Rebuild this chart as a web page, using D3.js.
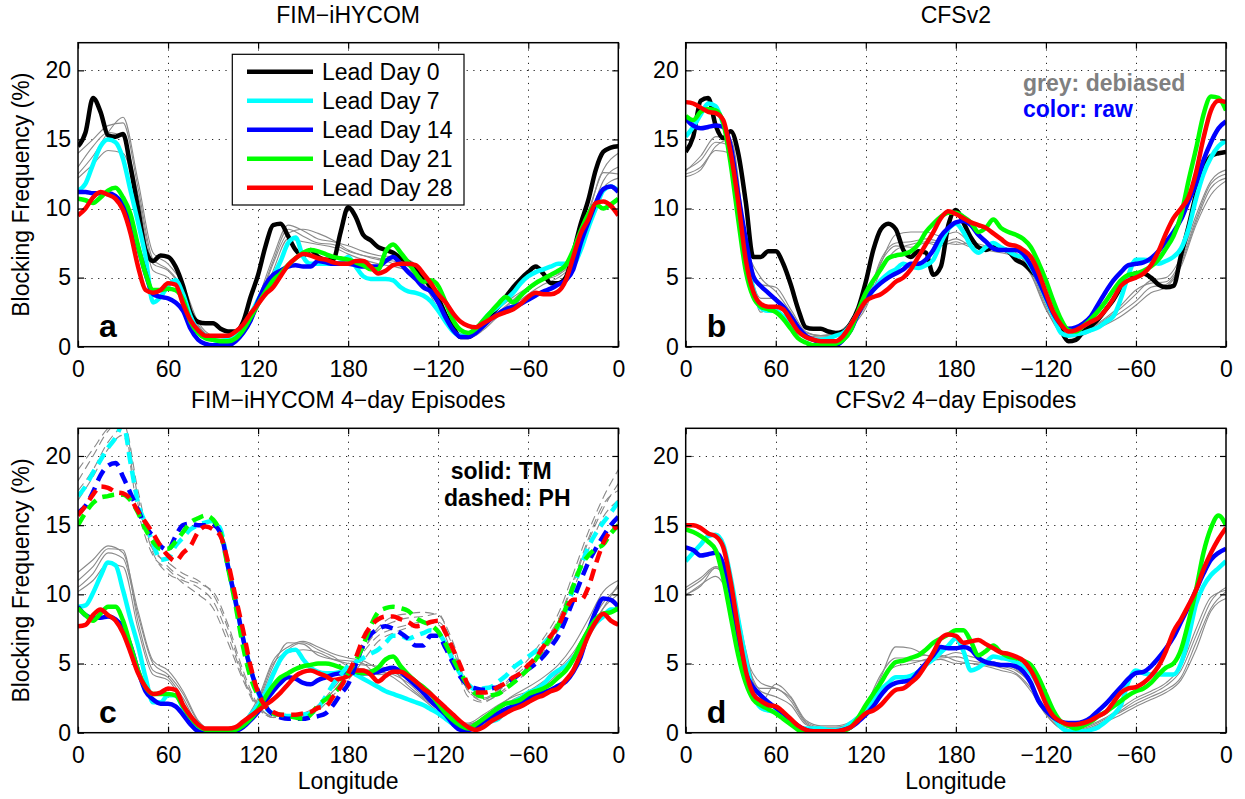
<!DOCTYPE html>
<html>
<head>
<meta charset="utf-8">
<script src="https://cdn.jsdelivr.net/npm/d3@7"></script>
<style>
  body { margin: 0; background: #fff; }
  svg { font-family: "Liberation Sans", Arial, Helvetica, sans-serif; }
</style>
</head>
<body>
<svg id="fig" width="1245" height="799"></svg>
<script>
// ---- longitude grids (deg east, 360 = 0) ----
const lonFine = [0,5,10,15,20,25,30,35,40,45,50,55,60,65,70,75,80,85,90,95,100,105,110,115,120,125,130,135,140,145,150,155,160,165,170,175,180,185,190,195,200,205,210,215,220,225,230,235,240,245,250,255,260,265,270,275,280,285,290,295,300,305,310,315,320,325,330,335,340,345,350,355,360];
const lonCoarse = [0,10,20,30,40,50,60,70,80,90,100,110,120,130,140,150,160,170,180,190,200,210,220,230,240,250,260,270,280,290,300,310,320,330,340,350,360];

const xTickVals = [0, 60, 120, 180, 240, 300, 360];
const xTickLabels = ["0", "60", "120", "180", "\u2212120", "\u221260", "0"];
const yTickVals = [0, 5, 10, 15, 20];

const leadNames = ["Lead Day 0", "Lead Day 7", "Lead Day 14", "Lead Day 21", "Lead Day 28"];
const leadColors = ["#000000", "#00ffff", "#0000ff", "#00ff00", "#ff0000"];

// ---- panel a: FIM-iHYCOM, raw (5 leads) ----
const aLead0 = [14.5,15.5,18.0,17.0,15.3,15.2,15.4,13.0,10.0,7.0, 6.2,6.6,6.5,5.8,4.4,2.5,1.8,1.7,1.7,1.3, 1.1,1.1,1.8,3.6,5.2,7.3,8.8,8.9,8.0,7.0, 6.6,7.0,6.5,6.3,6.3,8.3,10.1,9.4,8.1,7.7, 7.2,7.0,6.8,6.4,6.1,5.6,5.1,4.3,3.5,2.3, 1.4,0.7,0.7,1.1,1.7,2.3,2.9,3.6,4.3,4.9, 5.4,5.8,5.3,4.6,4.6,5.0,6.8,8.9,10.6,12.8, 14.1,14.4,14.5];
const aLead7 = [11.3,11.8,13.2,14.5,15.0,14.8,13.6,11.3,9.0,6.5, 3.2,3.6,4.4,4.8,3.8,2.2,1.2,0.8,0.5,0.4, 0.5,0.7,1.3,2.3,3.4,4.4,5.1,6.2,7.5,7.9, 6.5,6.0,6.0,6.0,6.0,6.1,6.5,5.8,5.1,4.9, 4.9,4.9,4.8,4.3,4.0,3.9,3.7,3.3,2.6,1.8, 1.1,0.8,0.9,1.2,1.9,2.5,2.9,3.4,3.9,4.6, 5.1,5.4,5.6,5.8,6.0,6.0,6.0,7.0,8.6,10.0, 11.3,11.6,11.3];
const aLead14 = [11.2,11.2,11.1,11.1,11.1,10.9,10.3,9.0,7.2,5.3, 3.8,3.6,3.5,3.2,2.6,1.3,0.5,0.2,0.1,0.1, 0.1,0.4,1.0,1.9,3.3,4.5,5.2,5.5,5.8,5.9, 5.8,5.8,6.2,6.1,6.0,6.0,6.0,5.9,5.8,5.8, 5.8,6.2,6.5,6.0,5.4,4.9,4.3,4.0,3.2,2.1, 1.2,0.7,0.7,1.0,1.5,2.0,2.4,2.7,2.9,3.1, 3.4,3.7,4.0,4.2,4.5,4.8,5.6,7.5,9.0,10.4, 11.4,11.6,11.2];
const aLead21 = [10.7,10.6,10.4,10.8,11.3,11.5,10.8,9.6,7.3,5.3, 4.1,4.1,4.2,4.1,3.4,1.8,1.0,0.6,0.5,0.4, 0.4,0.6,1.2,2.1,3.1,4.0,4.8,5.3,5.9,6.4, 6.8,7.0,6.9,6.7,6.5,6.4,6.3,6.1,5.9,5.6, 5.6,6.9,7.4,6.8,6.1,5.3,4.7,4.8,4.4,3.2, 1.9,1.2,1.0,1.3,1.9,2.5,3.1,3.6,3.2,3.7, 4.2,4.6,4.9,5.2,5.5,5.9,7.0,8.4,9.6,10.3, 10.0,10.3,10.7];
const aLead28 = [9.5,10.0,10.8,11.2,11.0,10.7,9.9,8.2,5.8,4.1, 3.9,4.1,4.6,4.5,3.1,1.9,1.2,0.8,0.8,0.8, 0.8,1.1,1.6,2.4,3.1,3.8,4.3,5.1,5.9,6.4, 6.7,6.6,6.4,6.3,6.1,6.0,6.0,6.2,6.2,5.8, 5.3,5.5,5.9,6.0,6.0,5.9,5.3,4.6,3.8,3.2, 2.4,1.8,1.5,1.4,1.7,2.0,2.3,2.5,2.7,3.1, 3.6,3.9,3.8,3.8,4.0,4.8,6.5,8.2,9.2,10.4, 10.5,10.2,9.5];
// debiased (grey)
const aGrey1 = [12.5,13.8,15.5,16.6,12.0,6.8,6.0,4.5,1.8,0.8, 0.7,1.3,3.5,6.5,8.8,8.4,7.8,7.6,7.3,6.9, 6.6,6.5,6.3,5.3,3.3,1.3,0.8,1.6,2.7,3.6, 4.3,5.0,5.3,6.5,9.5,12.6,12.5];
const aGrey2 = [13.0,14.5,15.5,15.2,11.0,6.0,5.5,4.0,1.5,0.6, 0.5,1.0,3.0,6.0,8.2,8.5,8.2,7.7,7.0,6.6, 6.3,6.2,5.8,5.0,3.0,1.2,0.7,1.3,2.4,3.3, 4.1,4.8,5.2,6.2,9.0,12.0,13.0];
const aGrey3 = [12.2,13.2,14.2,14.0,10.5,5.5,5.0,3.6,1.2,0.4, 0.3,0.9,2.8,5.5,7.8,7.6,7.4,7.2,6.7,6.3, 6.0,5.8,5.5,4.6,2.7,1.0,0.6,1.2,2.2,3.0, 3.8,4.5,5.0,6.0,8.5,11.5,12.2];
const aGrey4 = [14.0,15.0,16.0,16.2,11.5,6.3,5.6,4.2,1.6,0.7, 0.6,1.1,3.2,6.2,8.5,8.0,7.5,7.4,6.9,6.6, 6.4,6.0,5.6,4.8,3.1,1.1,0.8,1.5,2.5,3.4, 4.3,5.0,5.5,6.8,9.8,12.8,14.0];

// ---- panel b: CFSv2 ----
const bLead0 = [14.1,15.2,17.8,18.0,16.0,15.1,15.6,14.0,10.5,6.5, 6.5,6.9,6.9,6.0,4.5,2.7,1.4,1.3,1.3,1.1, 1.0,1.1,1.7,2.8,4.7,7.0,8.5,8.9,8.5,7.0, 6.5,6.9,6.8,5.2,5.8,8.8,9.9,9.0,7.9,7.2, 7.0,7.2,7.1,6.9,6.3,6.0,5.5,4.9,3.7,2.4, 1.2,0.4,0.5,1.1,1.5,2.0,2.7,3.4,4.3,5.0, 5.3,5.3,5.0,4.5,4.3,4.4,6.6,8.7,11.0,12.8, 13.8,14.0,14.1];
const bLead7 = [15.2,15.9,16.8,17.6,17.4,16.1,14.2,10.6,7.0,4.2, 2.8,2.6,2.6,2.2,1.7,1.1,0.7,0.5,0.5,0.6, 0.8,1.0,1.6,2.5,3.4,4.1,4.8,5.3,5.6,6.0, 5.8,5.7,5.9,6.3,7.5,8.5,8.9,8.3,7.3,6.8, 7.2,7.5,7.2,6.9,6.6,6.5,5.8,4.8,3.5,2.2, 1.0,0.8,0.9,1.0,1.2,1.4,1.8,2.2,3.5,5.2, 6.3,6.3,6.2,6.0,6.2,6.5,7.1,8.5,10.7,12.5, 13.7,14.5,14.9];
const bLead14 = [16.5,16.0,15.8,15.9,16.0,15.9,14.5,11.0,7.8,5.1, 4.4,3.9,3.4,2.9,2.2,1.4,0.8,0.5,0.3,0.1, 0.1,0.5,1.2,2.4,3.4,4.1,4.6,5.0,5.3,5.6, 6.0,6.0,6.3,7.0,8.0,8.6,9.0,9.1,8.8,8.1, 7.6,7.1,7.0,7.0,7.0,6.7,5.9,4.8,3.6,2.4, 1.6,1.3,1.4,1.7,2.2,3.1,4.0,4.8,5.4,5.9, 6.0,6.1,6.4,6.9,7.6,8.3,9.2,10.5,11.8,13.5, 14.8,15.8,16.3];
const bLead21 = [16.7,16.4,17.0,17.2,17.1,16.2,13.2,9.2,5.5,3.6, 2.9,2.7,2.5,2.0,1.3,0.6,0.3,0.1,0.1,0.1, 0.2,0.5,1.2,2.6,3.9,4.8,5.6,6.4,6.6,6.7, 6.9,7.4,8.3,8.9,9.4,9.7,9.7,9.4,9.0,8.3, 8.6,9.2,8.6,8.3,8.1,7.8,7.2,6.1,4.8,3.3, 2.0,1.2,1.1,1.5,2.0,2.6,3.3,4.1,4.8,5.2, 5.3,5.5,5.8,6.3,7.1,8.0,9.5,12.0,14.3,16.8, 18.1,18.0,17.1];
const bLead28 = [17.7,17.6,17.3,17.0,16.9,16.4,14.0,10.5,6.3,4.0, 3.1,2.9,2.9,2.7,1.9,1.1,0.7,0.5,0.4,0.4, 0.4,0.8,1.6,2.5,3.3,3.6,3.8,4.2,4.7,5.0, 5.6,6.5,7.4,8.3,9.3,9.8,9.6,9.3,9.0,8.8, 8.6,8.2,7.8,7.4,7.3,7.0,6.5,5.4,3.9,2.5, 1.6,1.1,1.2,1.5,1.8,2.1,2.7,3.5,4.4,4.8, 5.0,5.3,5.9,6.9,8.2,9.3,10.0,10.8,12.6,15.1, 17.1,17.8,17.7];
const bGrey1 = [12.8,13.5,14.8,14.5,7.5,5.0,4.0,2.5,1.0,0.8, 0.9,1.6,3.0,6.0,8.1,8.3,8.3,8.0,8.3,7.5, 7.2,7.2,6.8,5.5,3.0,1.3,0.9,1.3,2.0,2.8, 3.8,4.8,5.0,6.5,9.5,12.0,12.8];
const bGrey2 = [12.5,13.0,14.2,14.0,7.0,3.5,3.5,2.2,0.8,0.7, 0.8,1.4,2.8,5.5,7.0,7.4,7.6,7.5,7.8,7.3, 7.0,6.8,6.5,5.2,2.7,1.2,0.8,1.2,1.8,2.5, 3.3,4.3,4.5,6.0,9.0,11.5,12.2];
const bGrey3 = [12.3,12.8,14.5,15.0,7.8,2.5,3.0,2.0,0.7,0.6, 0.7,1.5,3.2,6.3,7.5,7.6,7.8,7.6,7.4,7.5, 7.3,7.0,6.6,5.3,2.8,1.0,0.7,1.1,1.6,2.2, 3.0,3.9,4.3,5.8,8.8,11.0,12.0];
const bGrey4 = [12.7,13.8,15.2,14.8,7.6,4.5,4.3,2.7,1.1,0.8, 1.0,1.8,3.4,6.1,7.3,7.2,7.5,7.3,7.6,7.2, 7.1,7.0,6.7,5.6,3.2,1.4,1.0,1.4,2.1,3.0, 4.1,4.6,4.7,6.2,9.2,11.8,12.5];

// ---- panel c: FIM-iHYCOM 4-day episodes, TM (solid) and PH (dashed) ----
const cTM7 = [9.1,9.2,10.1,11.3,12.3,12.1,10.3,8.2,6.3,4.0, 2.2,2.2,2.7,2.7,1.8,1.0,0.4,0.2,0.1,0.1, 0.1,0.2,0.6,1.3,2.0,2.9,4.2,5.3,5.9,6.0, 5.3,4.7,4.4,4.3,4.3,4.4,4.5,4.2,3.9,3.6, 3.3,3.0,2.8,2.6,2.4,2.2,2.0,1.7,1.4,1.0, 0.6,0.3,0.3,0.4,0.6,0.8,1.0,1.6,2.2,2.5, 2.9,3.1,3.5,4.1,4.5,4.8,5.4,6.2,7.1,7.9, 8.4,8.9,8.9];
const cTM14 = [9.1,8.5,8.3,8.3,8.4,8.2,7.6,6.3,4.5,3.0, 2.4,2.1,2.1,1.9,1.3,0.6,0.1,0.0,0.0,0.0, 0.0,0.1,0.4,0.9,1.5,2.3,3.0,3.6,4.0,3.9, 3.6,3.5,3.8,4.0,4.2,4.3,4.4,4.4,4.3,4.3, 4.4,4.6,4.7,4.4,3.9,3.4,2.9,2.3,1.8,1.3, 0.6,0.2,0.2,0.4,0.8,1.1,1.4,1.7,1.9,2.2, 2.5,2.7,2.9,3.1,3.4,3.7,4.4,5.5,7.3,8.8, 9.7,9.6,9.1];
const cTM21 = [9.0,8.5,8.1,8.6,9.1,9.1,8.1,6.3,4.5,3.3, 2.8,2.8,2.8,2.7,1.9,1.1,0.5,0.2,0.1,0.1, 0.1,0.2,0.5,1.0,1.7,2.6,3.4,4.0,4.3,4.6, 4.8,4.9,5.0,5.0,4.9,4.7,4.5,4.4,4.3,4.4, 4.7,5.3,5.5,4.8,4.2,3.7,3.3,2.8,2.1,1.4, 0.9,0.5,0.3,0.6,1.0,1.4,1.8,2.1,2.2,2.4, 2.8,3.0,3.2,3.5,4.0,4.5,5.3,6.4,7.4,8.2, 8.6,8.7,9.0];
const cTM28 = [7.7,7.8,8.5,8.9,8.5,8.1,7.2,5.8,4.3,3.3, 2.8,2.9,3.2,3.1,2.0,1.2,0.6,0.3,0.3,0.3, 0.3,0.4,0.8,1.2,1.6,2.0,2.4,2.9,3.5,4.1, 4.4,4.5,4.3,4.1,3.8,3.9,4.1,4.5,4.5,4.2, 3.7,4.1,4.4,4.4,4.1,3.7,3.2,2.8,2.3,1.8, 1.3,0.8,0.4,0.2,0.4,0.8,1.1,1.4,1.7,1.9, 2.2,2.5,2.7,3.0,3.2,3.8,4.5,5.7,7.0,8.0, 8.6,8.1,7.8];
const cPH7 = [17.1,17.8,18.8,19.7,20.6,21.3,22.3,19.5,16.6,15.1, 13.7,12.5,12.6,13.5,14.1,14.7,15.0,15.2,15.3,14.7, 12.0,9.4,6.8,4.6,2.9,1.8,1.4,1.3,1.2,1.2, 1.3,1.4,1.8,2.6,3.5,4.2,4.8,5.1,5.4,5.7, 6.0,6.5,7.0,7.0,6.8,7.0,7.2,7.4,7.2,6.4, 5.2,4.2,3.5,3.1,3.2,3.3,3.7,4.1,4.7,5.1, 5.5,5.9,6.4,7.0,7.6,8.8,10.4,12.0,13.4,14.4, 15.2,15.9,16.7];
const cPH14 = [15.9,16.4,17.4,18.6,19.3,19.5,18.5,17.3,16.1,14.9, 14.2,13.5,13.2,14.2,15.0,15.1,15.0,15.0,15.0,14.4, 12.0,9.5,6.8,4.6,3.0,1.9,1.3,1.1,1.0,1.0, 1.0,1.1,1.2,1.4,2.0,2.8,3.5,4.9,6.3,7.1, 7.5,7.7,7.5,7.2,6.8,6.3,6.3,7.0,7.0,6.1, 5.0,4.0,3.4,3.2,3.1,3.2,3.3,3.6,3.9,4.3, 4.6,5.0,5.5,6.2,7.0,8.2,9.6,11.0,12.3,13.3, 14.2,15.0,15.6];
const cPH21 = [15.0,15.9,16.6,17.0,17.1,17.2,17.2,16.8,15.9,14.7, 13.8,13.3,13.3,13.8,14.5,15.2,15.5,15.7,15.4,14.4, 11.9,9.2,6.2,4.0,2.7,1.9,1.4,1.3,1.2,1.1, 1.0,1.3,2.0,2.4,2.8,3.4,4.3,5.2,6.3,7.7, 8.7,9.0,9.1,9.0,8.8,8.3,8.0,7.8,7.3,6.4, 5.3,4.3,3.4,2.8,2.6,2.7,2.8,3.2,3.6,4.1, 4.6,5.3,6.1,6.9,7.8,9.0,10.6,12.0,12.8,13.3, 13.6,14.4,15.0];
const cPH28 = [15.7,16.4,17.2,17.8,17.7,17.4,17.3,16.9,16.0,15.2, 14.4,13.5,12.8,12.4,13.0,13.5,14.5,14.9,14.7,14.2, 12.3,9.8,7.4,4.8,2.9,1.9,1.5,1.3,1.3,1.3, 1.4,1.5,1.8,1.9,2.6,3.3,4.3,5.4,6.8,7.7, 8.2,8.4,8.4,8.2,8.0,7.7,7.8,8.0,8.1,7.2, 6.0,4.8,3.4,2.9,2.9,3.0,3.3,3.6,4.0,4.3, 4.9,5.4,6.2,7.0,7.7,8.9,9.6,9.6,10.5,12.2, 13.7,14.6,14.9];
const cGreyTM1 = [10.5,11.5,13.0,12.6,8.5,5.0,4.2,2.8,0.8,0.1, 0.1,0.7,2.2,4.8,6.5,6.4,5.6,5.3,5.2,5.0, 4.2,4.3,3.8,2.8,2.0,1.0,0.6,1.0,1.6,2.4, 2.9,3.6,4.6,5.8,7.6,9.4,10.5];
const cGreyTM2 = [11.0,12.0,13.3,13.2,8.0,4.5,4.0,2.5,0.6,0.1, 0.1,0.5,2.0,4.5,6.0,6.5,6.0,5.5,4.8,4.6, 4.4,4.2,3.6,2.6,1.8,0.8,0.5,0.8,1.4,2.2, 2.7,3.3,4.3,5.5,7.2,9.0,10.0];
const cGreyTM3 = [10.2,11.0,12.2,12.0,7.5,4.2,3.8,2.2,0.5,0.0, 0.0,0.6,2.3,5.0,5.8,6.0,5.8,5.3,5.0,4.9, 4.8,4.5,3.4,2.5,1.7,0.9,0.6,1.1,1.9,2.7, 3.3,4.0,4.9,6.3,8.2,10.2,11.0];
const cGreyTM4 = [11.6,12.5,13.5,13.0,8.8,5.2,4.5,3.0,0.9,0.2, 0.2,0.8,2.5,5.2,6.2,6.6,6.2,5.7,5.4,5.2, 4.6,4.0,3.2,2.4,1.5,0.7,0.7,1.3,2.0,2.6, 3.0,3.7,4.4,5.6,7.0,9.0,10.7];
const cGreyPH1 = [17.5,19.0,21.0,22.0,16.5,13.5,12.0,11.2,10.8,10.2, 7.8,4.5,2.0,1.2,1.2,1.4,2.0,3.2,4.5,6.0, 7.4,8.0,8.3,8.4,8.6,6.0,3.0,2.4,3.0,4.0, 5.0,6.5,8.2,11.0,14.0,16.5,17.5];
const cGreyPH2 = [18.2,20.0,21.8,22.5,17.0,13.0,11.5,11.0,10.5,9.5, 7.0,4.0,1.8,1.1,1.1,1.3,1.8,3.0,4.2,5.8, 7.0,7.5,7.8,8.0,7.8,5.5,2.6,2.2,2.8,3.7, 4.8,6.2,8.0,10.8,13.8,16.2,18.0];
const cGreyPH3 = [16.8,18.5,20.5,21.5,16.0,12.8,11.8,10.8,10.0,9.0, 6.5,3.8,1.7,1.1,1.0,1.2,1.6,2.7,3.8,5.2, 6.6,7.2,7.6,7.8,8.0,6.2,3.0,2.3,2.7,3.5, 4.5,5.8,7.5,10.3,13.2,15.6,16.8];
const cGreyPH4 = [19.0,20.5,22.0,22.6,17.5,13.2,12.3,11.5,11.0,10.0, 7.5,4.2,1.9,1.2,1.2,1.3,1.9,3.0,4.3,6.0, 7.6,8.4,8.6,8.7,8.5,6.5,3.2,2.5,3.1,4.2, 5.3,6.8,8.6,11.5,14.5,17.0,19.0];

// ---- panel d: CFSv2 4-day episodes ----
const dLead7 = [12.4,13.0,13.6,14.2,14.3,13.6,11.2,8.2,5.3,2.8, 1.8,1.6,1.5,1.2,0.8,0.4,0.3,0.3,0.3,0.2, 0.2,0.3,0.7,1.1,1.7,2.4,3.1,3.6,4.0,4.0, 4.1,4.4,4.9,5.3,5.8,6.3,6.8,5.9,4.5,4.7, 5.1,5.5,5.4,5.3,5.1,4.8,4.3,3.4,2.3,1.2, 0.4,0.1,0.1,0.1,0.2,0.4,0.8,1.3,2.0,3.7, 4.5,4.3,4.2,4.2,4.2,4.2,5.0,6.9,9.3,10.6, 11.4,11.9,12.4];
const dLead14 = [13.4,13.2,12.8,12.9,13.0,12.2,10.0,6.6,4.3,3.3, 2.7,2.2,1.8,1.4,0.9,0.5,0.2,0.1,0.1,0.1, 0.1,0.2,0.4,0.8,1.3,1.9,2.7,3.3,3.6,3.7, 3.8,4.4,5.0,5.6,6.2,6.1,6.1,6.2,6.0,5.4, 5.1,5.0,4.9,4.9,4.8,4.4,3.6,2.3,1.6,1.1, 0.8,0.7,0.7,0.8,1.1,1.6,2.1,2.7,3.3,3.9, 4.3,4.4,4.8,5.4,6.1,6.9,8.0,9.1,10.3,11.5, 12.5,13.0,13.3];
const dLead21 = [14.7,14.5,14.2,13.8,13.2,11.2,8.4,5.6,3.6,2.4, 2.0,1.7,1.4,1.0,0.6,0.2,0.0,0.0,0.0,0.0, 0.0,0.1,0.4,1.1,2.0,2.8,3.6,4.5,5.1,5.2, 5.4,5.6,6.0,6.5,6.8,7.1,7.4,7.4,6.6,5.6, 5.9,6.3,5.8,5.5,5.4,5.2,4.9,4.0,2.8,1.6, 0.8,0.5,0.3,0.5,0.8,1.2,1.5,1.9,2.3,2.7, 3.0,3.2,3.6,4.2,4.7,5.0,6.0,8.0,10.3,13.0, 14.8,15.7,15.0];
const dLead28 = [15.0,15.0,14.8,14.4,14.2,13.4,10.9,7.5,4.5,2.8, 2.3,2.0,1.9,1.5,1.0,0.5,0.2,0.1,0.1,0.1, 0.1,0.2,0.4,0.9,1.4,1.6,2.0,2.6,3.1,3.2, 3.6,4.1,4.9,5.8,6.8,7.1,7.0,6.5,6.6,6.7, 6.4,6.1,5.8,5.7,5.5,5.2,4.5,3.4,2.1,1.2, 0.8,0.6,0.6,0.7,0.9,1.2,1.5,2.2,2.9,3.2, 3.3,3.6,4.1,4.8,5.9,7.3,8.2,9.2,10.3,11.8, 13.0,14.0,14.8];
const dGrey1 = [10.0,10.6,11.9,10.0,5.5,3.6,3.2,2.5,0.8,0.4, 0.4,0.7,1.8,4.0,6.2,6.1,5.6,5.4,5.5,5.2, 5.0,4.8,4.5,3.5,1.6,0.4,0.2,0.5,1.0,1.5, 2.1,2.6,3.1,4.0,6.5,9.0,10.2];
const dGrey2 = [10.3,11.0,11.9,10.5,5.0,3.2,3.2,2.3,0.7,0.3, 0.3,0.6,1.6,3.6,5.0,5.2,5.2,5.3,5.0,5.0, 4.9,4.7,4.3,3.2,1.4,0.3,0.1,0.4,0.9,1.6, 2.3,2.8,3.4,4.5,7.0,9.5,10.5];
const dGrey3 = [9.9,10.7,11.3,9.5,5.3,3.0,2.6,2.0,0.6,0.3, 0.3,0.6,1.7,3.8,4.8,5.0,5.3,5.6,5.2,5.0, 4.8,4.5,4.2,3.0,1.3,0.3,0.1,0.3,0.8,1.3, 1.9,2.4,2.9,3.8,6.0,8.8,9.7];
const dGrey4 = [10.5,11.2,12.0,10.8,6.0,2.2,3.5,2.6,0.9,0.5, 0.5,0.8,2.0,4.2,5.4,5.4,5.6,5.5,5.8,5.5, 5.2,5.0,4.6,3.6,1.7,0.5,0.3,0.6,1.1,1.8, 2.5,3.0,3.6,4.8,7.5,9.8,10.3];

// ---- figure ----
const svg = d3.select("#fig");
const FONT = "'Liberation Sans', Arial, Helvetica, sans-serif";
const FS = 23;

const panels = [
  { key: "a", title: "FIM\u2212iHYCOM", left: 78, right: 618.3, top: 42.7, bottom: 346.7, ylabel: true, xlabel: false,
    grey: [aGrey1, aGrey2, aGrey3, aGrey4].map(v => ({ values: v })),
    colored: [aLead0, aLead7, aLead14, aLead21, aLead28].map((v, i) => ({ values: v, color: leadColors[i] })) },
  { key: "b", title: "CFSv2", left: 685.7, right: 1226, top: 42.7, bottom: 346.7, ylabel: false, xlabel: false,
    grey: [bGrey1, bGrey2, bGrey3, bGrey4].map(v => ({ values: v })),
    colored: [bLead0, bLead7, bLead14, bLead21, bLead28].map((v, i) => ({ values: v, color: leadColors[i] })) },
  { key: "c", title: "FIM\u2212iHYCOM 4\u2212day Episodes", left: 78, right: 618.3, top: 428.3, bottom: 732.7, ylabel: true, xlabel: true,
    grey: [cGreyTM1, cGreyTM2, cGreyTM3, cGreyTM4].map(v => ({ values: v }))
      .concat([cGreyPH1, cGreyPH2, cGreyPH3, cGreyPH4].map(v => ({ values: v, dashed: true }))),
    colored: [cTM7, cTM14, cTM21, cTM28].map((v, i) => ({ values: v, color: leadColors[i + 1] }))
      .concat([cPH7, cPH14, cPH21, cPH28].map((v, i) => ({ values: v, color: leadColors[i + 1], dashed: true }))) },
  { key: "d", title: "CFSv2 4\u2212day Episodes", left: 685.7, right: 1226, top: 428.3, bottom: 732.7, ylabel: false, xlabel: true,
    grey: [dGrey1, dGrey2, dGrey3, dGrey4].map(v => ({ values: v })),
    colored: [dLead7, dLead14, dLead21, dLead28].map((v, i) => ({ values: v, color: leadColors[i + 1] })) }
];

function styleAxis(ax) {
  ax.select(".domain").remove();
  ax.attr("font-size", FS).attr("font-family", FONT);
  ax.selectAll("line").attr("stroke", "#000").attr("stroke-width", 1.2);
  ax.selectAll("text").attr("fill", "#000");
}

panels.forEach(p => {
  const x = d3.scaleLinear().domain([0, 360]).range([p.left, p.right]);
  const y = d3.scaleLinear().domain([0, 22]).range([p.bottom, p.top]);
  const g = svg.append("g").attr("class", "panel-" + p.key);

  svg.append("clipPath").attr("id", "clip-" + p.key)
    .append("rect")
    .attr("x", p.left).attr("y", p.top)
    .attr("width", p.right - p.left).attr("height", p.bottom - p.top);

  // dotted grid
  g.append("g").selectAll("line").data(xTickVals.slice(1, -1)).join("line")
    .attr("x1", d => Math.round(x(d)) + 0.5).attr("x2", d => Math.round(x(d)) + 0.5)
    .attr("y1", p.top).attr("y2", p.bottom)
    .attr("stroke", "#222").attr("stroke-width", 1).attr("stroke-dasharray", "1.2,5.5");
  g.append("g").selectAll("line").data(yTickVals.slice(1)).join("line")
    .attr("x1", p.left).attr("x2", p.right)
    .attr("y1", d => Math.round(y(d)) + 0.5).attr("y2", d => Math.round(y(d)) + 0.5)
    .attr("stroke", "#222").attr("stroke-width", 1).attr("stroke-dasharray", "1.2,5.5");

  const lineFine = d3.line().x((d, i) => x(lonFine[i])).y(d => y(d)).curve(d3.curveMonotoneX);
  const lineCoarse = d3.line().x((d, i) => x(lonCoarse[i])).y(d => y(d)).curve(d3.curveMonotoneX);

  const plot = g.append("g").attr("clip-path", "url(#clip-" + p.key + ")");

  plot.selectAll(".grey").data(p.grey).join("path")
    .attr("class", "grey")
    .attr("d", d => lineCoarse(d.values))
    .attr("fill", "none").attr("stroke", "#8a8a8a").attr("stroke-width", 1.1)
    .attr("stroke-dasharray", d => d.dashed ? "9,5" : null);

  plot.selectAll(".raw").data(p.colored).join("path")
    .attr("class", "raw")
    .attr("d", d => lineFine(d.values))
    .attr("fill", "none").attr("stroke", d => d.color).attr("stroke-width", 4.5)
    .attr("stroke-linejoin", "round")
    .attr("stroke-dasharray", d => d.dashed ? "12,7" : null);

  // axes with inward ticks on all four sides
  const axB = g.append("g").attr("transform", `translate(0,${p.bottom})`)
    .call(d3.axisBottom(x).tickValues(xTickVals).tickFormat((d, i) => xTickLabels[i])
      .tickSizeInner(-6).tickSizeOuter(0).tickPadding(13.5));
  styleAxis(axB);
  const axT = g.append("g").attr("transform", `translate(0,${p.top})`)
    .call(d3.axisTop(x).tickValues(xTickVals).tickFormat(() => "").tickSizeInner(-6).tickSizeOuter(0));
  styleAxis(axT);
  const axL = g.append("g").attr("transform", `translate(${p.left},0)`)
    .call(d3.axisLeft(y).tickValues(yTickVals).tickFormat(d3.format("d"))
      .tickSizeInner(-6).tickSizeOuter(0).tickPadding(7));
  styleAxis(axL);
  const axR = g.append("g").attr("transform", `translate(${p.right},0)`)
    .call(d3.axisRight(y).tickValues(yTickVals).tickFormat(() => "").tickSizeInner(-6).tickSizeOuter(0));
  styleAxis(axR);

  g.append("rect")
    .attr("x", p.left).attr("y", p.top)
    .attr("width", p.right - p.left).attr("height", p.bottom - p.top)
    .attr("fill", "none").attr("stroke", "#000").attr("stroke-width", 1.5);

  // titles and labels
  g.append("text")
    .attr("x", (p.left + p.right) / 2).attr("y", p.top - 20)
    .attr("text-anchor", "middle").attr("font-size", FS).attr("fill", "#000")
    .text(p.title);

  g.append("text")
    .attr("x", p.left + 21).attr("y", p.bottom - 10)
    .attr("font-size", 32).attr("font-weight", "bold").attr("fill", "#000")
    .text(p.key);

  if (p.ylabel) {
    g.append("text")
      .attr("transform", `translate(29,${(p.top + p.bottom) / 2}) rotate(-90)`)
      .attr("text-anchor", "middle").attr("font-size", FS).attr("fill", "#000")
      .text("Blocking Frequency (%)");
  }
  if (p.xlabel) {
    g.append("text")
      .attr("x", (p.left + p.right) / 2).attr("y", p.bottom + 56)
      .attr("text-anchor", "middle").attr("font-size", FS).attr("fill", "#000")
      .text("Longitude");
  }
});

// legend in panel a
const legend = svg.append("g").attr("class", "legend");
legend.append("rect")
  .attr("x", 232.3).attr("y", 54.3).attr("width", 231.7).attr("height", 150.7)
  .attr("fill", "#fff").attr("stroke", "#000").attr("stroke-width", 1.2);
const items = legend.selectAll(".item").data(leadNames).join("g")
  .attr("class", "item")
  .attr("transform", (d, i) => `translate(0,${71.7 + i * 29})`);
items.append("line")
  .attr("x1", 247).attr("x2", 313).attr("y1", 0).attr("y2", 0)
  .attr("stroke", (d, i) => leadColors[i]).attr("stroke-width", 4.5);
items.append("text")
  .attr("x", 322).attr("y", 8)
  .attr("font-size", FS).attr("fill", "#000")
  .text(d => d);

// annotations
svg.append("text").attr("x", 1023).attr("y", 90.5)
  .attr("font-size", FS).attr("font-weight", "bold").attr("fill", "#808080")
  .text("grey: debiased");
svg.append("text").attr("x", 1023).attr("y", 117.3)
  .attr("font-size", FS).attr("font-weight", "bold").attr("fill", "#0000ff")
  .text("color: raw");
svg.append("text").attr("x", 450.7).attr("y", 479)
  .attr("font-size", FS).attr("font-weight", "bold").attr("fill", "#000")
  .text("solid: TM");
svg.append("text").attr("x", 444).attr("y", 506)
  .attr("font-size", FS).attr("font-weight", "bold").attr("fill", "#000")
  .text("dashed: PH");
</script>
</body>
</html>
